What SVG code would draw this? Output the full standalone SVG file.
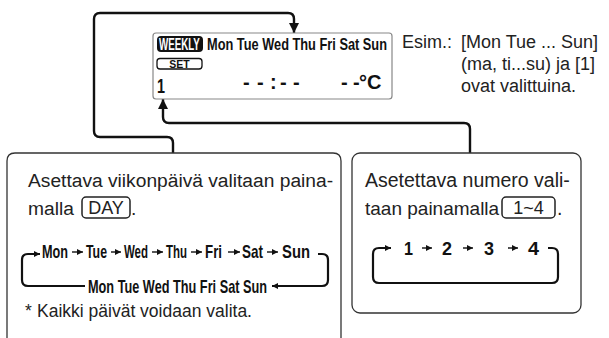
<svg xmlns="http://www.w3.org/2000/svg" width="609" height="338" viewBox="0 0 609 338">
<defs>
<marker id="bigArrow" viewBox="0 0 10 10" refX="10" refY="5" markerWidth="10" markerHeight="10" markerUnits="userSpaceOnUse" orient="auto">
<path d="M0,0 L10,5 L0,10 Z" fill="#111"/>
</marker>
<marker id="smallArrow" viewBox="0 0 10 10" refX="10" refY="5" markerWidth="6" markerHeight="6" markerUnits="userSpaceOnUse" orient="auto">
<path d="M0,0 L10,5 L0,10 Z" fill="#111"/>
</marker>
</defs>
<style>
.conn{fill:none;stroke:#111;stroke-width:2.4;stroke-linejoin:round}
.brk{fill:none;stroke:#111;stroke-width:2.2}
.sa{fill:none;stroke:#111;stroke-width:1.4}
.box{fill:none;stroke:#333;stroke-width:1.3}
.txt{font-family:"Liberation Sans",Arial,sans-serif;fill:#222}
.cond{font-family:"Liberation Sans",Arial,sans-serif;font-weight:bold;fill:#111}
.btn{fill:none;stroke:#222;stroke-width:1.5}
</style>
<rect width="609" height="338" fill="#fff"/>

<g id="connectors">
<path class="conn" d="M173,153 V143 Q173,137 167,137 H100 Q94,137 94,131 V19 Q94,13 100,13 H288 Q294,13 294,19 V33" marker-end="url(#bigArrow)"/>
<path class="conn" d="M470,153 V129 Q470,123 464,123 H169 Q163,123 163,117 V99" marker-end="url(#bigArrow)"/>
</g>

<g id="lcd">
<rect x="153" y="33" width="239" height="66" rx="3" fill="none" stroke="#888" stroke-width="1.2"/>
<rect x="157" y="36" width="46" height="16" rx="4" fill="#111"/>
<g transform="translate(159,50) scale(0.61,1)">
<text class="cond" x="0" y="0" font-size="16" style="fill:#fff">WEEKLY</text>
</g>
<rect x="157" y="58.5" width="45" height="10.5" rx="3" fill="none" stroke="#111" stroke-width="1.3"/>
<text class="cond" x="179.5" y="67.5" font-size="10.5" text-anchor="middle">SET</text>
<g transform="translate(207,50) scale(0.75,1)">
<text class="cond" x="0" y="0" font-size="17" textLength="240" lengthAdjust="spacingAndGlyphs">Mon Tue Wed Thu Fri Sat Sun</text>
</g>
<text class="cond" x="157" y="93" font-size="21" textLength="8" lengthAdjust="spacingAndGlyphs">1</text>
<text class="cond" font-size="20" y="89" x="243 257 270 280 293 327 341 353 359">--:-- --°C</text>
</g>

<g id="example">
<text class="txt" font-size="18" x="402" y="48">Esim.:</text>
<text class="txt" font-size="18" x="461" y="48">[Mon Tue ... Sun]</text>
<text class="txt" font-size="18" x="461" y="70">(ma, ti...su) ja [1]</text>
<text class="txt" font-size="18" x="461" y="92">ovat valittuina.</text>
</g>

<g id="day-box">
<path class="box" d="M7,338 V161 Q7,153 15,153 H333 Q341,153 341,161 V338"/>
<text class="txt" font-size="19.2" x="28" y="187">Asettava viikonpäivä valitaan paina-</text>
<text class="txt" font-size="19.2" x="28" y="215">malla</text>
<rect class="btn" x="82" y="197" width="48" height="21" rx="4"/>
<text class="txt" font-size="18" x="106" y="214" text-anchor="middle">DAY</text>
<text class="txt" font-size="19.2" x="131" y="215">.</text>
<path class="brk" d="M85,286 H28 Q22,286 22,280 V260 Q22,254 28,254 H40" marker-end="url(#smallArrow)"/>
<path class="brk" d="M318,254 H322 Q328,254 328,260 V280 Q328,286 322,286 H272" marker-end="url(#smallArrow)"/>
<g class="cond" font-size="18.5">
<text x="42" y="258" textLength="26" lengthAdjust="spacingAndGlyphs">Mon</text>
<text x="86" y="258" textLength="21" lengthAdjust="spacingAndGlyphs">Tue</text>
<text x="124" y="258" textLength="24" lengthAdjust="spacingAndGlyphs">Wed</text>
<text x="166" y="258" textLength="21" lengthAdjust="spacingAndGlyphs">Thu</text>
<text x="205" y="258" textLength="17" lengthAdjust="spacingAndGlyphs">Fri</text>
<text x="242" y="258" textLength="21" lengthAdjust="spacingAndGlyphs">Sat</text>
<text x="282" y="258" textLength="28" lengthAdjust="spacingAndGlyphs">Sun</text>
<text x="88" y="293" textLength="179" lengthAdjust="spacingAndGlyphs">Mon Tue Wed Thu Fri Sat Sun</text>
</g>
<path class="sa" d="M72,252 H83" marker-end="url(#smallArrow)"/>
<path class="sa" d="M111,252 H121" marker-end="url(#smallArrow)"/>
<path class="sa" d="M152,252 H163" marker-end="url(#smallArrow)"/>
<path class="sa" d="M191,252 H202" marker-end="url(#smallArrow)"/>
<path class="sa" d="M228,252 H240" marker-end="url(#smallArrow)"/>
<path class="sa" d="M267,252 H278" marker-end="url(#smallArrow)"/>
<text class="txt" font-size="17.5" x="25" y="317">*</text>
<text class="txt" font-size="17.5" x="37" y="317">Kaikki päivät voidaan valita.</text>
</g>

<g id="number-box">
<rect class="box" x="352" y="153" width="229" height="160" rx="8"/>
<text class="txt" font-size="19.5" x="365" y="187">Asetettava numero vali-</text>
<text class="txt" font-size="19" x="365" y="215">taan painamalla</text>
<rect class="btn" x="502" y="197" width="53" height="21" rx="4"/>
<text class="txt" font-size="18" x="528.5" y="214" text-anchor="middle">1~4</text>
<text class="txt" font-size="19.5" x="557" y="215">.</text>
<path class="brk" d="M548,248 H552 Q558,248 558,254 V277 Q558,283 552,283 H379 Q373,283 373,277 V254 Q373,248 379,248 H391" marker-end="url(#smallArrow)"/>
<g class="cond" font-size="19">
<text x="404" y="255" textLength="9" lengthAdjust="spacingAndGlyphs">1</text>
<text x="442" y="255" textLength="10" lengthAdjust="spacingAndGlyphs">2</text>
<text x="484" y="255" textLength="10" lengthAdjust="spacingAndGlyphs">3</text>
<text x="528" y="255" textLength="11" lengthAdjust="spacingAndGlyphs">4</text>
</g>
<path class="sa" d="M422,248 H432" marker-end="url(#smallArrow)"/>
<path class="sa" d="M463,248 H473" marker-end="url(#smallArrow)"/>
<path class="sa" d="M508,248 H518" marker-end="url(#smallArrow)"/>
</g>
</svg>
